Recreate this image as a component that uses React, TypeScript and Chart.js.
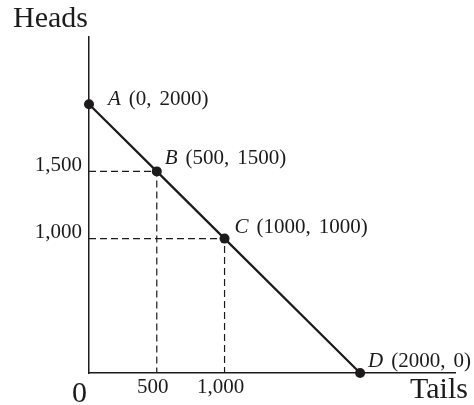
import React, { useEffect, useRef } from "react";
import { Chart, registerables } from "chart.js";

Chart.register(...registerables);

// Production possibilities: heads vs. tails
const pointNames = ["A", "B", "C", "D"];
const tails = [0, 500, 1000, 2000];
const heads = [2000, 1500, 1000, 0];
const guidePoints = [1, 2]; // points B and C get dashed guides to both axes
const xTickValues = [500, 1000];
const yTickValues = [1000, 1500];
const xAxisTitle = "Tails";
const yAxisTitle = "Heads";
const originLabel = "0";

const INK = "#1c1a1b";
const SERIF = '"Liberation Serif", "Times New Roman", serif';

// per-label nudges (px) from each point
const labelNudge = [
  { dx: 19, dy: 1 },
  { dx: 8, dy: -7 },
  { dx: 10, dy: -6 },
  { dx: 8, dy: -6 },
];

const fmt = (v: number) => v.toLocaleString("en-US");

const textPlugin = {
  id: "ppfText",
  afterDatasetsDraw(chart: any) {
    const { ctx, chartArea, scales } = chart;
    const xs = scales.x;
    const ys = scales.y;
    ctx.save();
    ctx.fillStyle = INK;
    ctx.textBaseline = "alphabetic";
    ctx.textAlign = "left";

    // point labels: italic letter followed by coordinates
    pointNames.forEach((name, i) => {
      const px = xs.getPixelForValue(tails[i]) + labelNudge[i].dx;
      const py = ys.getPixelForValue(heads[i]) + labelNudge[i].dy;
      let x = px;
      ctx.font = `italic 21px ${SERIF}`;
      ctx.fillText(name, x, py);
      x += ctx.measureText(name).width + 8;
      ctx.font = `21px ${SERIF}`;
      const first = `(${tails[i]},`;
      ctx.fillText(first, x, py);
      x += ctx.measureText(first).width + 8;
      ctx.fillText(`${heads[i]})`, x, py);
    });

    // axis titles and origin
    ctx.font = `30px ${SERIF}`;
    ctx.fillText(yAxisTitle, chartArea.left - 76, chartArea.top - 10);
    ctx.fillText(xAxisTitle, chartArea.right - 45, chartArea.bottom + 25);
    ctx.fillText(originLabel, xs.getPixelForValue(0) - 17, chartArea.bottom + 29);
    ctx.restore();
  },
};

export default function App() {
  const canvasRef = useRef<HTMLCanvasElement | null>(null);

  useEffect(() => {
    const canvas = canvasRef.current;
    if (!canvas) return;

    const guides = guidePoints.map((i) => ({
      data: [
        { x: 0, y: heads[i] },
        { x: tails[i], y: heads[i] },
        { x: tails[i], y: 0 },
      ],
      showLine: true,
      borderColor: INK,
      borderWidth: 1.2,
      borderDash: [7, 4],
      pointRadius: 0,
      clip: false,
    }));

    const chart = new Chart(canvas, {
      type: "scatter",
      data: {
        datasets: [
          {
            data: tails.map((t, i) => ({ x: t, y: heads[i] })),
            showLine: true,
            borderColor: INK,
            borderWidth: 2.2,
            pointRadius: 5,
            pointBackgroundColor: INK,
            pointBorderColor: INK,
            pointBorderWidth: 0,
            clip: false,
          },
          ...guides,
        ] as any,
      },
      options: {
        responsive: false,
        animation: false,
        devicePixelRatio: 1,
        layout: { padding: { top: 37, right: 19, left: 0, bottom: 0 } },
        plugins: {
          legend: { display: false },
          tooltip: { enabled: false },
        },
        scales: {
          x: {
            type: "linear",
            min: 0,
            max: 2700,
            afterBuildTicks: (scale: any) => {
              scale.ticks = xTickValues.map((v) => ({ value: v }));
            },
            afterFit: (scale: any) => {
              scale.height = 32;
            },
            grid: { display: false, drawTicks: false },
            border: { display: true, color: INK, width: 1.5 },
            ticks: {
              color: INK,
              font: { family: SERIF, size: 21 },
              padding: 2,
              labelOffset: -4,
              maxRotation: 0,
              autoSkip: false,
              callback: (v: any) => fmt(Number(v)),
            },
          },
          y: {
            type: "linear",
            min: 0,
            max: 2500,
            afterBuildTicks: (scale: any) => {
              scale.ticks = yTickValues.map((v) => ({ value: v }));
            },
            afterFit: (scale: any) => {
              scale.width = 89;
            },
            grid: { display: false, drawTicks: false },
            border: { display: true, color: INK, width: 1.5 },
            ticks: {
              color: INK,
              font: { family: SERIF, size: 21 },
              padding: 7,
              labelOffset: -6,
              autoSkip: false,
              callback: (v: any) => fmt(Number(v)),
            },
          },
        },
      },
      plugins: [textPlugin],
    });

    return () => chart.destroy();
  }, []);

  return (
    <div
      style={{
        position: "fixed",
        left: 0,
        top: 0,
        width: 474,
        height: 405,
        background: "#ffffff",
      }}
    >
      <canvas ref={canvasRef} width={474} height={405} />
    </div>
  );
}
